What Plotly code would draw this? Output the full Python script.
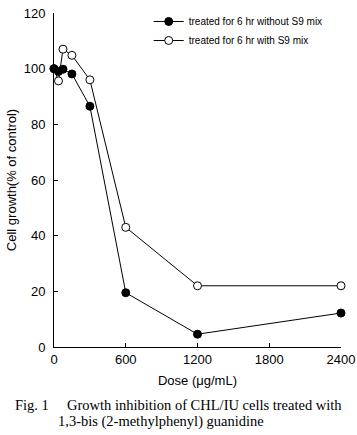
import plotly.graph_objects as go

dose = [0, 37.5, 75, 150, 300, 600, 1200, 2400]
without_s9 = [100, 99, 99.8, 98.1, 86.5, 19.5, 4.6, 12.2]
with_s9 = [100, 95.6, 107, 104.8, 96, 43, 22, 22]

series_names = ["treated for 6 hr without S9 mix", "treated for 6 hr with S9 mix"]
x_ticks = [0, 600, 1200, 1800, 2400]
y_ticks = [0, 20, 40, 60, 80, 100, 120]

fig = go.Figure()
fig.add_trace(go.Scatter(
    x=dose, y=with_s9, name=series_names[1], mode="lines+markers",
    line=dict(color="black", width=1),
    marker=dict(symbol="circle", size=8, color="white", line=dict(color="black", width=1)),
    cliponaxis=False, legendrank=2,
))
fig.add_trace(go.Scatter(
    x=dose, y=without_s9, name=series_names[0], mode="lines+markers",
    line=dict(color="black", width=1),
    marker=dict(symbol="circle", size=8, color="black", line=dict(color="black", width=1)),
    cliponaxis=False, legendrank=1,
))

font = dict(family="Liberation Sans, Arial, sans-serif", color="black")

fig.update_layout(
    width=357, height=435,
    margin=dict(l=54, r=16, t=7, b=88),
    paper_bgcolor="white", plot_bgcolor="white",
    font=dict(size=13, **font),
    showlegend=True,
    legend=dict(x=0.33, y=1.018, xanchor="left", yanchor="top",
                font=dict(size=10, **font), bgcolor="rgba(0,0,0,0)",
                tracegroupgap=0, itemwidth=30),
    xaxis=dict(range=[0, 2400], tickvals=x_ticks, showline=True, linecolor="black",
               linewidth=1, ticks="inside", ticklen=4, tickcolor="black",
               showgrid=False, zeroline=False, automargin=False,
               ticklabeloverflow="allow",
               title=dict(text="Dose (μg/mL)", font=dict(size=13, **font), standoff=10),
               tickfont=dict(size=13, **font)),
    yaxis=dict(range=[0, 120], tickvals=y_ticks, showline=True, linecolor="black",
               linewidth=1, ticks="inside", ticklen=4, tickcolor="black",
               showgrid=False, zeroline=False, automargin=False,
               ticklabeloverflow="allow", ticklabelstandoff=5,
               title=dict(text="Cell growth(% of control)", font=dict(size=13, **font), standoff=4),
               tickfont=dict(size=13, **font)),
)

serif = dict(family="Liberation Serif, DejaVu Serif, serif", size=14.5, color="black")
fig.add_annotation(text="Fig. 1     Growth inhibition of CHL/IU cells treated with",
                   xref="paper", yref="paper", x=-0.143, y=-0.174,
                   xanchor="left", yanchor="middle", showarrow=False, font=serif)
fig.add_annotation(text="1,3-bis (2-methylphenyl) guanidine",
                   xref="paper", yref="paper", x=0.007, y=-0.222,
                   xanchor="left", yanchor="middle", showarrow=False, font=serif)

fig.write_html("out.html", config={"displayModeBar": False},
               post_script="document.body.style.margin='0';")
